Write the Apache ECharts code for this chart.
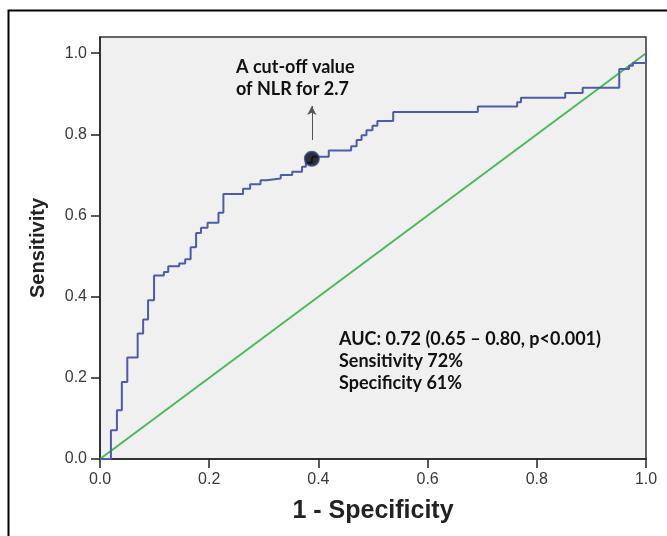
<!DOCTYPE html>
<html>
<head>
<meta charset="utf-8">
<script src="https://cdn.jsdelivr.net/npm/echarts@6/dist/echarts.min.js"></script>
<style>
html,body{margin:0;padding:0;background:#fff;}
#chart{width:667px;height:536px;}
</style>
</head>
<body>
<div id="chart"></div>
<script>
// ROC curve (1 - Specificity, Sensitivity), step vertices
const fpr = [0, 0.020, 0.031, 0.040, 0.050, 0.069, 0.079, 0.088, 0.099, 0.117, 0.125, 0.145, 0.156, 0.166, 0.176, 0.185, 0.197, 0.217, 0.226, 0.262, 0.275, 0.294, 0.305, 0.331, 0.352, 0.370, 0.377, 0.388, 0.390, 0.419, 0.460, 0.470, 0.479, 0.488, 0.499, 0.508, 0.537, 0.692, 0.764, 0.771, 0.852, 0.884, 0.951, 0.969, 0.976, 1.0];
const tpr = [0, 0.071, 0.120, 0.190, 0.250, 0.309, 0.344, 0.391, 0.452, 0.461, 0.475, 0.482, 0.492, 0.522, 0.557, 0.570, 0.582, 0.607, 0.653, 0.666, 0.677, 0.687, 0.691, 0.700, 0.708, 0.720, 0.730, 0.740, 0.745, 0.760, 0.771, 0.786, 0.798, 0.810, 0.821, 0.833, 0.855, 0.869, 0.879, 0.890, 0.902, 0.915, 0.961, 0.969, 0.976, 1.0];
const refX = [0, 1];
const refY = [0, 1];
const cutoff = [0.388, 0.740];
const arrowFrom = [0.388, 0.786];
const arrowTo = [0.388, 0.870];
const tickValues = [0, 0.2, 0.4, 0.6, 0.8, 1.0];
const xTitle = '1 - Specificity';
const yTitle = 'Sensitivity';
const cutoffText = 'A cut-off value\nof NLR for 2.7';
const statsText = 'AUC: 0.72 (0.65 \u2013 0.80, p<0.001)\nSensitivity 72%\nSpecificity 61%';

const chart = echarts.init(document.getElementById('chart'), null, {renderer: 'canvas'});
const tickFont = {fontFamily: 'Liberation Sans, Arial, sans-serif', fontSize: 16, color: '#3a3a3a', letterSpacing: 1};
const option = {
  backgroundColor: '#fff',
  animation: false,
  grid: {left: 100, right: 21, top: 37, bottom: 77, show: true, backgroundColor: '#f0f0f0', borderColor: '#333', borderWidth: 1.5},
  xAxis: {
    type: 'value', min: 0, max: 1, interval: 0.2,
    axisLine: {show: true, onZero: false, lineStyle: {color: '#222', width: 1.5}},
    axisTick: {show: true, length: 9, lineStyle: {color: '#222', width: 1.5}},
    axisLabel: Object.assign({margin: 13, formatter: v => v.toFixed(1)}, tickFont),
    splitLine: {show: false},
    name: xTitle, nameLocation: 'middle', nameGap: 40,
    nameTextStyle: {fontFamily: 'Liberation Sans, Arial, sans-serif', fontWeight: 'bold', fontSize: 25, letterSpacing: 1.5, color: '#222'}
  },
  yAxis: {
    type: 'value', min: 0, max: 1.04,
    axisLine: {show: true, onZero: false, lineStyle: {color: '#222', width: 1.5}},
    axisTick: {show: true, length: 9, customValues: tickValues, lineStyle: {color: '#222', width: 1.5}},
    axisLabel: Object.assign({margin: 13, customValues: tickValues, formatter: v => v.toFixed(1)}, tickFont),
    splitLine: {show: false},
    name: yTitle, nameLocation: 'middle', nameGap: 52, nameRotate: 90,
    nameTextStyle: {fontFamily: 'Liberation Sans, Arial, sans-serif', fontWeight: 'bold', fontSize: 20, color: '#222'}
  },
  series: [
    {
      type: 'line', data: refX.map((x, i) => [x, refY[i]]), symbol: 'none',
      lineStyle: {color: '#4cb85a', width: 2}, z: 2
    },
    {
      type: 'line', step: 'end', data: fpr.map((x, i) => [x, tpr[i]]), symbol: 'none',
      lineStyle: {color: '#4d5ca8', width: 2}, z: 3,
      markLine: {
        silent: true, symbol: ['none', 'arrow'], symbolSize: [7, 9],
        lineStyle: {color: '#555', width: 1, type: 'solid'}, label: {show: false},
        data: [[{coord: arrowFrom}, {coord: arrowTo}]]
      }
    },
    {
      type: 'scatter', data: [cutoff], symbol: 'circle', symbolSize: 14,
      itemStyle: {color: '#000', borderColor: '#2a3a7a', borderWidth: 2}, z: 10
    }
  ],
  graphic: [
    {type: 'rect', left: 6, top: 8, shape: {width: 720, height: 600}, style: {fill: 'none', stroke: '#000', lineWidth: 2}, z: 100},
    {type: 'text', left: 236, top: 56, style: {text: cutoffText, fontFamily: 'Lato, Open Sans, sans-serif', fontWeight: 'bold', fontSize: 18, lineHeight: 22, fill: '#111', align: 'center'}, z: 50},
    {type: 'text', left: 339, top: 328, style: {text: statsText, fontFamily: 'Lato, Open Sans, sans-serif', fontWeight: 'bold', fontSize: 18, lineHeight: 22, fill: '#111'}, z: 50}
  ]
};
chart.setOption(option);
</script>
</body>
</html>
